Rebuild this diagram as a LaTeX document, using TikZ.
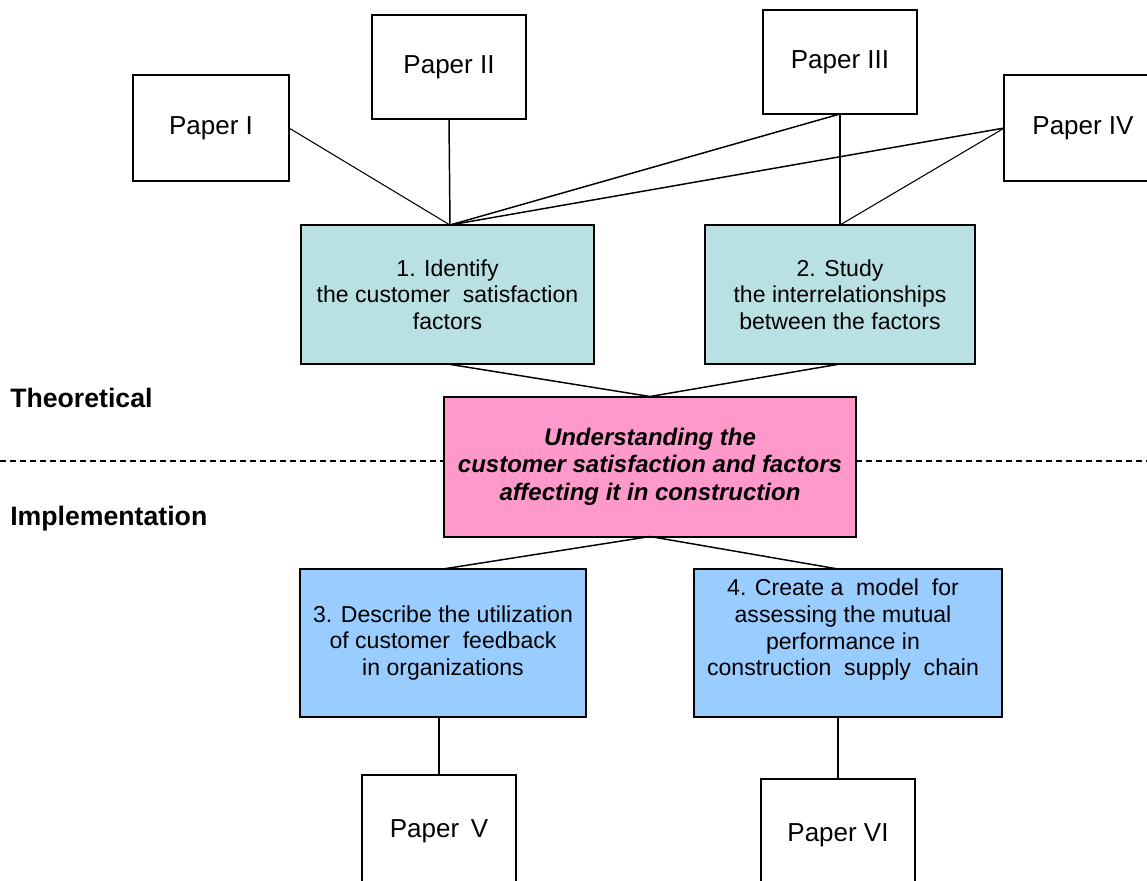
\documentclass[tikz,border=0pt]{standalone}
\usepackage{fontspec}
\setmainfont{Liberation Sans}
\usetikzlibrary{calc}
\definecolor{tealfill}{HTML}{B9E0E3}
\definecolor{pinkfill}{HTML}{FF99CC}
\definecolor{bluefill}{HTML}{99CCFF}
\begin{document}
\begin{tikzpicture}[x=0.75pt,y=-0.75pt,
  paper/.style={draw, line width=1.5pt, fill=white, inner sep=0pt, outer sep=0pt,
    font=\fontsize{19.5}{22}\selectfont},
  goal/.style={draw, line width=1.5pt, inner sep=0pt, outer sep=0pt, align=center,
    font=\fontsize{17.3}{20}\selectfont},
  boxtext/.style={inner sep=0pt, align=center, font=\fontsize{17.3}{20}\selectfont},
  link/.style={line width=1.1pt},
  thin link/.style={line width=0.8pt},
  sidelabel/.style={anchor=base west, inner sep=0pt, font=\fontsize{20}{24}\selectfont\bfseries},
  divider/.style={line width=1.1pt, dash pattern=on 4.5pt off 3pt}]
\useasboundingbox (0,0) rectangle (1147,881);
\clip (0,0) rectangle (1147,881);

% paper boxes
\node[paper, minimum width=117pt, minimum height=79.5pt] (p1) at (211,128) {Paper I};
\node[paper, minimum width=115.5pt, minimum height=78pt] (p2) at (449,67) {Paper II};
\node[paper, minimum width=115.5pt, minimum height=78pt] (p3) at (840,62) {Paper III};
\node[paper, minimum width=118pt, minimum height=79.5pt] (p4) at (1083,128) {Paper IV};
\node[paper, minimum width=115.5pt, minimum height=84pt] (p5) at (439,831) {Paper\,\ V};
\node[paper, minimum width=115.5pt, minimum height=84pt] (p6) at (838,835) {Paper VI};

% objective boxes
\node[goal, fill=tealfill, minimum width=219.75pt, minimum height=104.25pt] (b1) at (447.5,294.5)
  {1. Identify\\the customer\ \ satisfaction\\factors};
\node[goal, fill=tealfill, minimum width=202.5pt, minimum height=104.25pt] (b2) at (840,294.5)
  {2. Study\\the interrelationships\\between the factors};
\node[goal, fill=pinkfill, minimum width=309pt, minimum height=105pt,
  font=\fontsize{18}{20.5}\selectfont\bfseries\itshape] (c) at (650,466.5)
  {Understanding the\\customer satisfaction and factors\\affecting it in construction};
\node[goal, fill=bluefill, minimum width=214.5pt, minimum height=111pt] (b3) at (443,643)
  {3. Describe the utilization\\of customer\ \ feedback\\in organizations};
\node[goal, fill=bluefill, minimum width=231pt, minimum height=111pt] (b4) at (848,643) {};
\node[boxtext] (b4t) at (843,630)
  {4. Create a\ \ model\ \ for\\assessing the mutual\\performance in\\construction\ \ supply\ \ chain};

% side labels
\node[sidelabel] (theo) at (10,407) {Theoretical};
\node[sidelabel] (impl) at (10,525) {Implementation};

% divider
\coordinate (dl) at (0,461);
\coordinate (dr) at (1147,461);
\draw[divider] (dl) -- (c.west |- dl);
\draw[divider] (c.east |- dr) -- (dr);

% connectors
\coordinate (b1top) at (450,225);
\coordinate (b2top) at (840,225);
\draw[thin link] (p1.east) -- (b1top);
\draw[link] (p2.south) -- (b1top);
\draw[link] (p3.south) -- (b1top);
\draw[link] (p3.south) -- (b2top);
\draw[link] (p4.west) -- (b1top);
\draw[thin link] (p4.west) -- (b2top);
\draw[link] (b1.south) -- (c.north);
\draw[link] (b2.south) -- (c.north);
\coordinate (b3top) at (443,569);
\coordinate (b4top) at (838,569);
\draw[link] (c.south) -- (b3top);
\draw[link] (c.south) -- (b4top);
\draw[link] (p5.north |- b3.south) -- (p5.north);
\draw[link] (p6.north |- b4.south) -- (p6.north);
\end{tikzpicture}
\end{document}
